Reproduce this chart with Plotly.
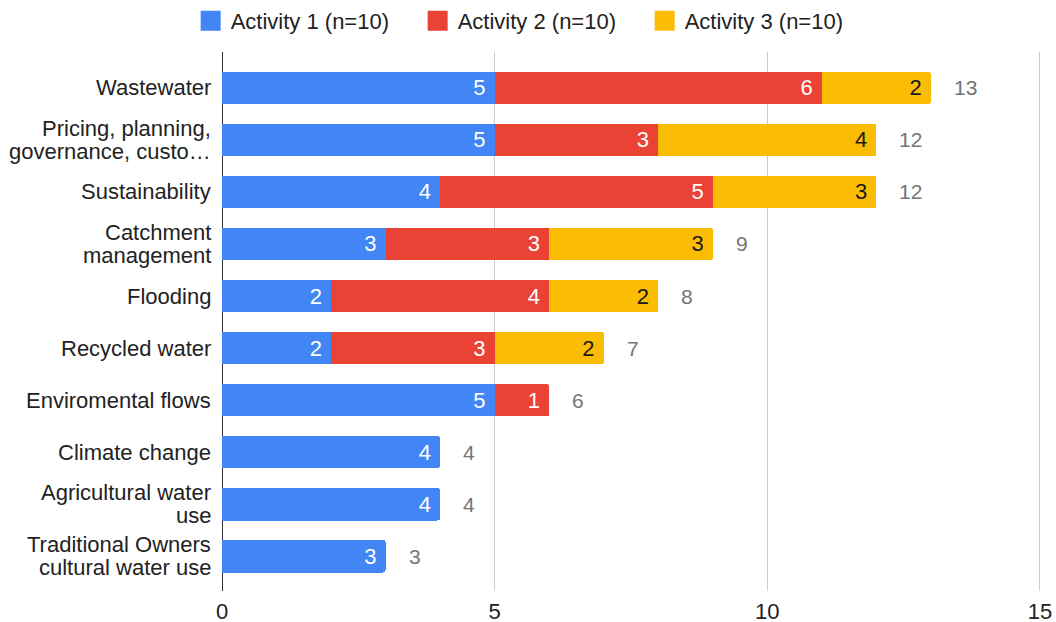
import plotly.graph_objects as go

categories = ["Wastewater", "Pricing, planning,<br>governance, custo…", "Sustainability",
              "Catchment<br>management", "Flooding", "Recycled water", "Enviromental flows",
              "Climate change", "Agricultural water<br>use", "Traditional Owners<br>cultural water use"]
activity1 = [5, 5, 4, 3, 2, 2, 5, 4, 4, 3]
activity2 = [6, 3, 5, 3, 4, 3, 1, None, None, None]
activity3 = [2, 4, 3, 3, 2, 2, None, None, None, None]
series_names = ["Activity 1 (n=10)", "Activity 2 (n=10)", "Activity 3 (n=10)"]
colors = ["#4285F4", "#EA4335", "#FBBC04"]
text_colors = ["#ffffff", "#ffffff", "#1a1a1a"]
x_ticks = [0, 5, 10, 15]

FONT = "Liberation Sans, Arial, sans-serif"
FS = 22
LINE_H = 23

fig = go.Figure()
for name, vals, col, tcol in zip(series_names, [activity1, activity2, activity3], colors, text_colors):
    fig.add_trace(go.Bar(
        y=categories, x=vals, name=name, orientation="h",
        marker=dict(color=col, line=dict(width=0)),
        text=[v if v is not None else "" for v in vals],
        texttemplate="%{text}\u00a0",
        textposition="inside", insidetextanchor="end",
        textfont=dict(color=tcol, size=FS, family=FONT),
        hoverinfo="skip", showlegend=False,
    ))
    # legend entry with a larger square swatch
    fig.add_trace(go.Scatter(
        x=[None], y=[None], mode="markers", name=name,
        marker=dict(symbol="square", size=16, color=col, line=dict(color=col, width=4)),
        hoverinfo="skip", showlegend=True,
    ))

# totals at the end of each stack
totals = [sum(v or 0 for v in t) for t in zip(activity1, activity2, activity3)]
for cat, tot in zip(categories, totals):
    fig.add_annotation(x=tot, y=cat, text=str(tot), showarrow=False,
                       xanchor="left", xshift=21,
                       font=dict(color="#757575", size=FS - 1, family=FONT))

# category labels with tighter line spacing
for cat in categories:
    lines = cat.split("<br>")
    n = len(lines)
    for i, line in enumerate(lines):
        fig.add_annotation(x=0, xref="paper", y=cat, yref="y", text=line,
                           showarrow=False, xanchor="right", yanchor="middle",
                           xshift=-9, yshift=((n - 1) / 2 - i) * LINE_H,
                           font=dict(color="#222222", size=FS, family=FONT))

fig.update_layout(
    barmode="stack", bargap=0.37, barcornerradius=3,
    width=1056, height=622,
    margin=dict(l=222, r=15, t=52, b=31, autoexpand=False),
    plot_bgcolor="white", paper_bgcolor="white",
    font=dict(family=FONT, size=FS, color="#222222"),
    uniformtext=dict(minsize=FS, mode="show"),
    legend=dict(orientation="h", xref="container", yref="container",
                x=0.503, xanchor="center", y=1.0, yanchor="top",
                font=dict(size=FS, color="#222222"), traceorder="normal",
                itemwidth=30, itemsizing="trace", entrywidth=182, entrywidthmode="pixels"),
    xaxis=dict(range=[0, 15.02], tickvals=x_ticks, showgrid=True, gridcolor="#cccccc",
               gridwidth=1, zeroline=True, zerolinecolor="#333333", zerolinewidth=1,
               showline=False, ticklabelstandoff=5, automargin=False,
               tickfont=dict(size=FS, color="#222222")),
    yaxis=dict(range=[9.67, -0.69], showgrid=False, ticks="", showticklabels=False,
               automargin=False),
)

fig.write_html("out.html")
